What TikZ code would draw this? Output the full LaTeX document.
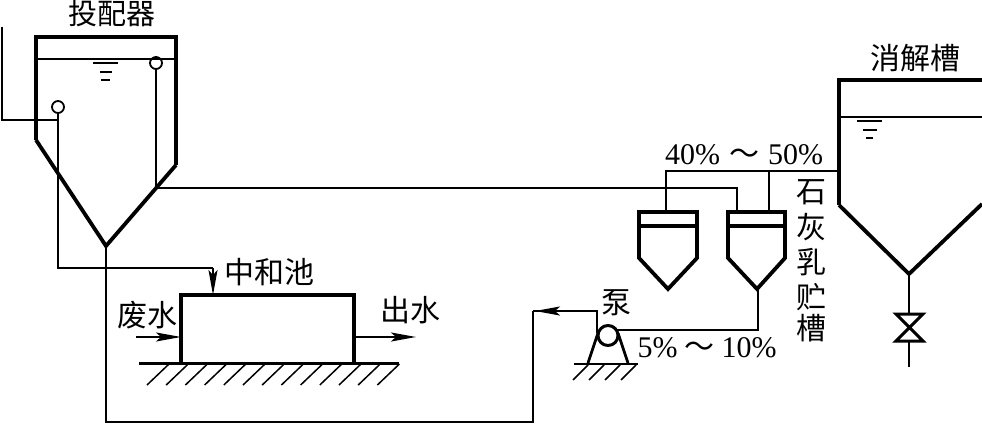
\documentclass[tikz,border=0pt]{standalone}
\usepackage{fontspec}
\setmainfont{Liberation Serif}
\newfontfamily\cjk{Noto Sans CJK SC}
\usetikzlibrary{arrows.meta}
\tikzset{
  wall/.style={line width=4.8pt,line join=miter},
  wallthin/.style={line width=3.8pt,line join=miter},
  pipe/.style={line width=2pt},
  fine/.style={line width=1.2pt},
  tipa/.style={-{Stealth[length=25pt,width=9pt,inset=5pt]}},
  flow/.style={line width=2pt,tipa},
  lbl/.style={inner sep=0pt,font=\cjk\fontsize{30}{30}\selectfont},
  pct/.style={inner sep=0pt,anchor=base,font=\fontsize{30}{30}\selectfont},
  ringv/.style={circle,draw,fill=white,line width=1.8pt,minimum size=12pt,inner sep=0pt},
}
\begin{document}
\begin{tikzpicture}[x=1pt,y=-1pt]
\useasboundingbox (0,0) rectangle (982,423);
% key points
\coordinate (inTop) at (2,27);
\coordinate (inBend) at (2,120);
\coordinate (inEnd) at (58,120);
\coordinate (dTL) at (36,37);
\coordinate (dTR) at (176,37);
\coordinate (dLS) at (36,140);
\coordinate (dRS) at (176,165);
\coordinate (dApex) at (106,246);
\coordinate (dLL) at (38,59);
\coordinate (dLR) at (175,59);
\coordinate (feedBend) at (58,268);
\coordinate (feedCorner) at (213,268);
\coordinate (nTL) at (181,295);
\coordinate (nTR) at (354,295);
\coordinate (nBL) at (181,363);
\coordinate (nBR) at (354,363);
\coordinate (feedEnd) at (213,295);
\coordinate (wIn) at (136,337);
\coordinate (wInEnd) at (181,337);
\coordinate (wOut) at (354,337);
\coordinate (wOutEnd) at (416,337);
\coordinate (ovStart) at (156,188);
\coordinate (ovBend) at (737,188);
\coordinate (ovEnd) at (737,212);
\coordinate (sL) at (666,171);
\coordinate (sR) at (769,171);
\coordinate (sE) at (839,171);
\coordinate (sLd) at (666,212);
\coordinate (sRd) at (769,212);
\coordinate (bApex) at (757.5,289);
\coordinate (bBend) at (757.5,330);
\coordinate (pumpIn) at (612,330);
\coordinate (pOutS) at (597,333);
\coordinate (pOutB) at (597,311);
\coordinate (retCorner) at (533,311);
\coordinate (retBL) at (533,422);
\coordinate (retBR) at (106,422);
\coordinate (xApex) at (909,274);
\coordinate (xEnd) at (909,367);

% dosing tank
\draw[wall] (dLS) -- (dTL) -- (dTR) -- (dRS);
\draw[wallthin] (dLS) -- (dApex) -- (dRS);
\draw[pipe] (dLL) -- (dLR);
\draw[pipe] (93,63) -- (118,63) (100,71.5) -- (112,71.5) (101,80) -- (110,80);
\draw[pipe] (inTop) -- (inBend) -- (inEnd);
\node[ringv] (ballA) at (58,107) {};
\node[ringv] (ballB) at (156,63) {};
\draw[pipe] (ballA) -- (feedBend) -- (feedCorner);
\draw[pipe] (ballB) -- (ovStart);
\draw[pipe] (dLL) -- (dLR);
\draw[flow] (feedCorner) -- (feedEnd);

% neutralisation basin
\draw[line width=3.2pt,line join=miter] (nBL) -- (nTL) -- (nTR) -- (nBR);
\draw[line width=3pt] (139,363.5) -- (399,363.5);
\foreach \i in {0,...,12} {
  \draw[line width=1.5pt] ({147+19.2*\i},385) -- ({169+19.2*\i},364);
}
\draw[line width=1.4pt,tipa] (wIn) -- (wInEnd);
\draw[flow] (wOut) -- (wOutEnd);

% main overflow and slurry lines
\draw[pipe] (ovStart) -- (ovBend) -- (ovEnd);
\draw[pipe] (sLd) -- (sL) -- (sE);
\draw[pipe] (sR) -- (sRd);

% storage tanks
\draw[wallthin] (639,258) -- (639,212) -- (697,212) -- (697,258) -- (668,289) -- cycle;
\draw[wallthin] (639,226) -- (697,226);
\draw[wallthin] (728,258) -- (728,212) -- (785,212) -- (785,258) -- (757,289) -- cycle;
\draw[wallthin] (728,226) -- (785,226);

% pump
\draw[pipe] (bApex) -- (bBend) -- (pumpIn);
\draw[line width=2.8pt] (588,363) -- (598,333);
\draw[line width=2.8pt] (628,363) -- (618,333);
\node[circle,draw,fill=white,line width=3pt,minimum size=20pt,inner sep=0pt] (pump) at (608,335.5) {};
\draw[line width=2.8pt] (574,364) -- (638,364);
\foreach \i in {0,...,3} {
  \draw[line width=1.5pt] ({573+16*\i},380) -- ({588+16*\i},365);
}
\draw[pipe] (pOutS) -- (pOutB) -- (retCorner);
\draw[flow] (pOutB) -- (535,311);
\draw[pipe] (retCorner) -- (retBL) -- (retBR) -- (dApex);

% slaking tank
\draw[wall] (839,205) -- (839,80) -- (982,80);
\draw[wallthin] (839,205) -- (xApex) -- (982,204);
\draw[fine] (840,117) -- (982,117);
\draw[pipe] (857,121) -- (882,121) (863,129.5) -- (877,129.5) (866,138) -- (873,138);
\draw[pipe] (xApex) -- (xEnd);
\draw[line width=3pt,fill=white,line join=miter] (896,314) -- (923,314) -- (896,341) -- (923,341) -- cycle;

% labels
\node[lbl,font=\cjk\fontsize{29}{29}\selectfont] (tDos) at (112,14) {投配器};
\node[lbl] (tNeu) at (269,272) {中和池};
\node[lbl] (tWaste) at (147,315) {废水};
\node[lbl] (tOut) at (410,310) {出水};
\node[lbl] (tPump) at (616,303) {泵};
\node[lbl] (tSlk) at (915,58) {消解槽};
\node[lbl] (c1) at (811,192) {石};
\node[lbl] (c2) at (811,227) {灰};
\node[lbl] (c3) at (811,262) {乳};
\node[lbl] (c4) at (811,297) {贮};
\node[lbl] (c5) at (811,328) {槽};
\node[pct] (pHigh) at (744,164) {40\%\hspace{9pt}{\cjk ～}\hspace{9pt}50\%};
\node[pct] (pLow) at (707,357) {5\%\hspace{7pt}{\cjk ～}\hspace{7pt}10\%};
\end{tikzpicture}
\end{document}
